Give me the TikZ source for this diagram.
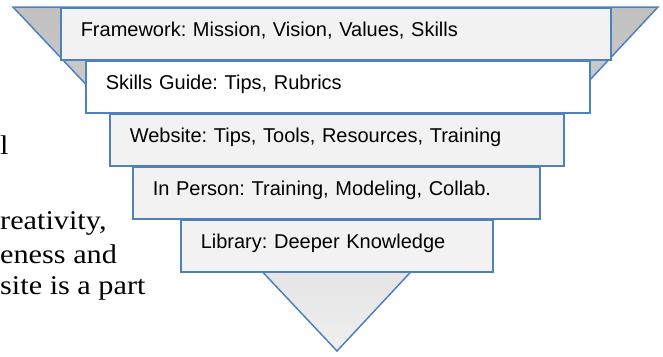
\documentclass[tikz,border=0pt]{standalone}
\usepackage{fontspec}
\setmainfont[FakeStretch=1.12]{Liberation Serif}
\newfontfamily\boxfont{Liberation Sans}
\frenchspacing

\definecolor{funnelblue}{RGB}{79,129,189}
\definecolor{boxgray}{RGB}{242,242,242}
\definecolor{funnelgray}{RGB}{192,192,192}
\definecolor{midgray}{RGB}{216,216,216}
\definecolor{tipgray}{RGB}{239,239,239}

\tikzset{
  layer/.style={draw=funnelblue, line width=1.5pt, anchor=north west,
    minimum height=52pt, inner xsep=20pt, inner ysep=0pt,
    text height=15pt, text depth=10pt, align=left,
    font=\boxfont\fontsize{20}{24}\selectfont},
  prose/.style={inner sep=0pt, anchor=base west, font=\fontsize{27}{33}\selectfont}
}

\begin{document}
\begin{tikzpicture}[x=1pt,y=-1pt]

      \clip (0,0) rectangle (663,356);

      % the funnel behind the layers
      \coordinate (funnel nw) at (13,7);
      \coordinate (funnel ne) at (658,7);
      \coordinate (funnel tip) at (337,351);
      \shade[top color=funnelgray, middle color=midgray, bottom color=tipgray]
        (funnel nw) -- (funnel ne) -- (funnel tip) -- cycle;
      \draw[funnelblue, line width=1.5pt] (funnel nw) -- (funnel ne) -- (funnel tip) -- cycle;

      % 5 layers, each one narrower than the one above
      \foreach \name/\ytop/\xl/\w/\col/\txt in {
          framework/7/60/550/boxgray/{Framework: Mission, Vision, Values, Skills},
          guide/60/85/504/white/{Skills Guide: Tips, Rubrics},
          website/113/109/454/boxgray/{Website: Tips, Tools, Resources, Training},
          person/166/132/407/boxgray/{In Person: Training, Modeling, Collab.},
          library/219/180/312/boxgray/{Library: Deeper Knowledge}} {
        \pgfmathsetmacro\tw{\w-40}
        \node[layer, minimum width=\w pt, text width=\tw pt, fill=\col] (\name) at (\xl,\ytop) {\txt};
      }

      % running text on the left
      \node[prose] (line0) at (0,154) {l};
      \node[prose] (line1) at (0,229) {reativity,};
      \node[prose] (line2) at (0,263) {eness and};
      \node[prose] (line3) at (0,294) {site is a part};

\end{tikzpicture}
\end{document}
